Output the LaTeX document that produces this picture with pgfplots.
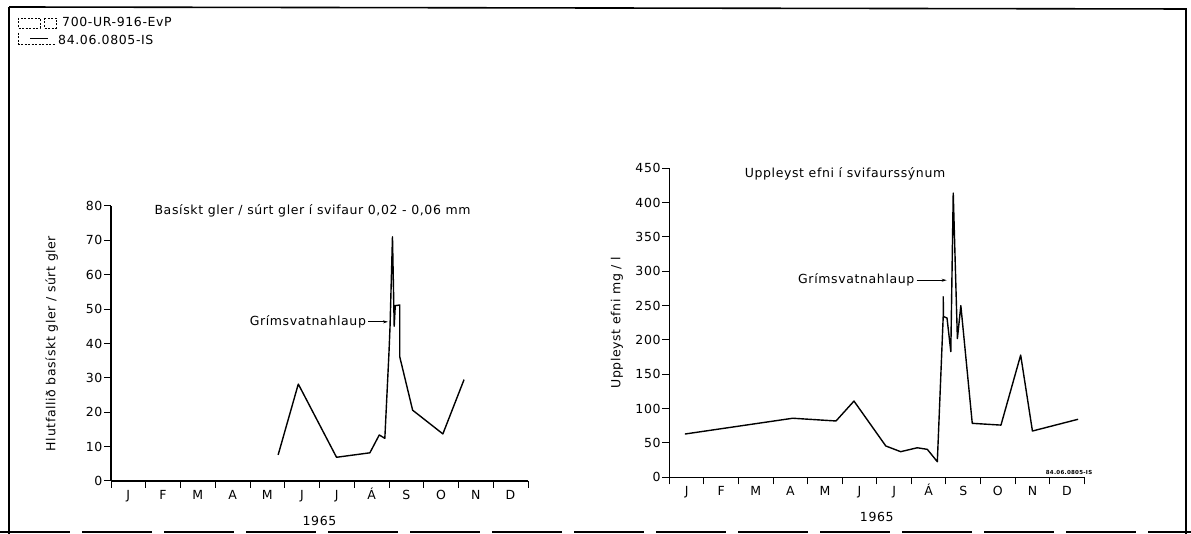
\documentclass[border=0pt]{standalone}
\usepackage{pgfplots}
\pgfplotsset{compat=1.18}
\usepackage{fontspec}
\setmainfont[LetterSpace=5]{DejaVu Sans}
\usetikzlibrary{arrows.meta}

\pgfplotsset{
  chart/.style={
    scale only axis,
    axis lines=left,
    axis line style={-, line width=1.3pt},
    xmin=0, xmax=12, ymin=0,
    xtick={0,...,12},
    xticklabels={J,F,M,A,M,J,J,Á,S,O,N,D,{}},
    x tick label style={xshift=17.3pt, inner sep=2.5pt, text height=8.8pt, text depth=0pt},
    y tick label style={inner sep=1.5pt},
    major tick length=7pt,
    tick align=outside,
    tick style={line width=1pt, black},
    /pgf/number format/assume math mode=true,
    xlabel={1965},
    xlabel style={at={(axis description cs:0.5,0)}, anchor=center, yshift=-40pt},
    ylabel style={anchor=center},
    clip=false,
  },
  curve/.style={black, line width=1.4pt, mark=none, line join=round},
}

\begin{document}
\begin{tikzpicture}[font=\fontsize{12.5}{14}\selectfont]
\useasboundingbox (0pt,0pt) rectangle (1191pt,534pt);

% frame and stamp
\draw[line width=1.6pt] (9pt,527pt) -- (1186pt,525pt) -- (1186pt,0pt);
\draw[line width=1.6pt] (9pt,527pt) -- (9pt,0pt);
\draw[line width=1.2pt, dash pattern=on 70pt off 12pt] (0pt,2pt) -- (1191pt,2pt);
\draw[line width=0.6pt, dash pattern=on 2pt off 1.5pt] (18pt,516pt) rectangle (40pt,506pt);
\draw[line width=0.6pt, dash pattern=on 2pt off 1.5pt] (44pt,516pt) rectangle (56pt,506pt);
\draw[line width=0.6pt, dash pattern=on 2pt off 1.5pt] (18pt,501pt) -- (18pt,490pt) -- (56pt,490pt);
\draw[line width=0.6pt] (30pt,496pt) -- (48pt,496pt);
\node[anchor=west, inner sep=0pt] at (62pt,512pt) {700-UR-916-EvP};
\node[anchor=west, inner sep=0pt] at (58pt,494pt) {84.06.0805-IS};

% left chart
\begin{axis}[chart,
  at={(111pt,53pt)}, anchor=south west,
  width=417pt, height=275pt,
  ymax=80, ytick={0,10,...,80},
  ylabel={Hlutfallið basískt gler / súrt gler},
  ylabel style={at={(axis description cs:-0.142,0.5)}},
]
\addplot[curve] coordinates {
  (4.81,7.6) (5.39,28.2) (6.49,6.9) (7.45,8.2) (7.72,13.4) (7.88,12.4)
  (8.00,37.5) (8.03,45) (8.10,71) (8.15,45) (8.18,51) (8.31,51.2)
  (8.31,36.1) (8.68,20.6) (9.55,13.7) (10.16,29.5)
};
\node at (axis cs:5.8,78.5) {Basískt gler / súrt gler í svifaur 0,02 - 0,06 mm};
\draw[-{Stealth[length=5pt,width=3pt]}, line width=0.8pt] (axis cs:7.40,46.3) -- (axis cs:7.97,46.3);
\node[anchor=east, inner sep=2pt] at (axis cs:7.40,46.3) {Grímsvatnahlaup};
\end{axis}

% right chart
\begin{axis}[chart,
  at={(669.3pt,56.7pt)}, anchor=south west,
  width=415pt, height=309pt,
  ymax=450, ytick={0,50,...,450},
  ylabel={Uppleyst efni mg / l},
  ylabel style={at={(axis description cs:-0.126,0.5)}},
]
\addplot[curve] coordinates {
  (0.45,63) (3.57,86) (4.82,82) (5.34,111) (6.26,45.6) (6.69,37.3)
  (7.17,43) (7.46,40.7) (7.75,22.7) (7.92,234) (7.92,263) (7.93,234)
  (8.03,232) (8.14,183) (8.21,414) (8.33,202) (8.43,250) (8.76,78.6)
  (9.59,76) (10.16,178) (10.50,67.4) (11.82,84.5)
};
\node at (axis cs:5.08,442.7) {Uppleyst efni í svifaurssýnum};
\draw[-{Stealth[length=5pt,width=3pt]}, line width=0.8pt] (axis cs:7.15,287) -- (axis cs:8.02,287);
\node[anchor=east, inner sep=2pt] at (axis cs:7.15,287) {Grímsvatnahlaup};
\node[anchor=south east, inner sep=0.5pt, font=\fontsize{5.5}{6}\selectfont\bfseries] at (axis cs:12.25,3) {84.06.0805-IS};
\end{axis}
\end{tikzpicture}
\end{document}
